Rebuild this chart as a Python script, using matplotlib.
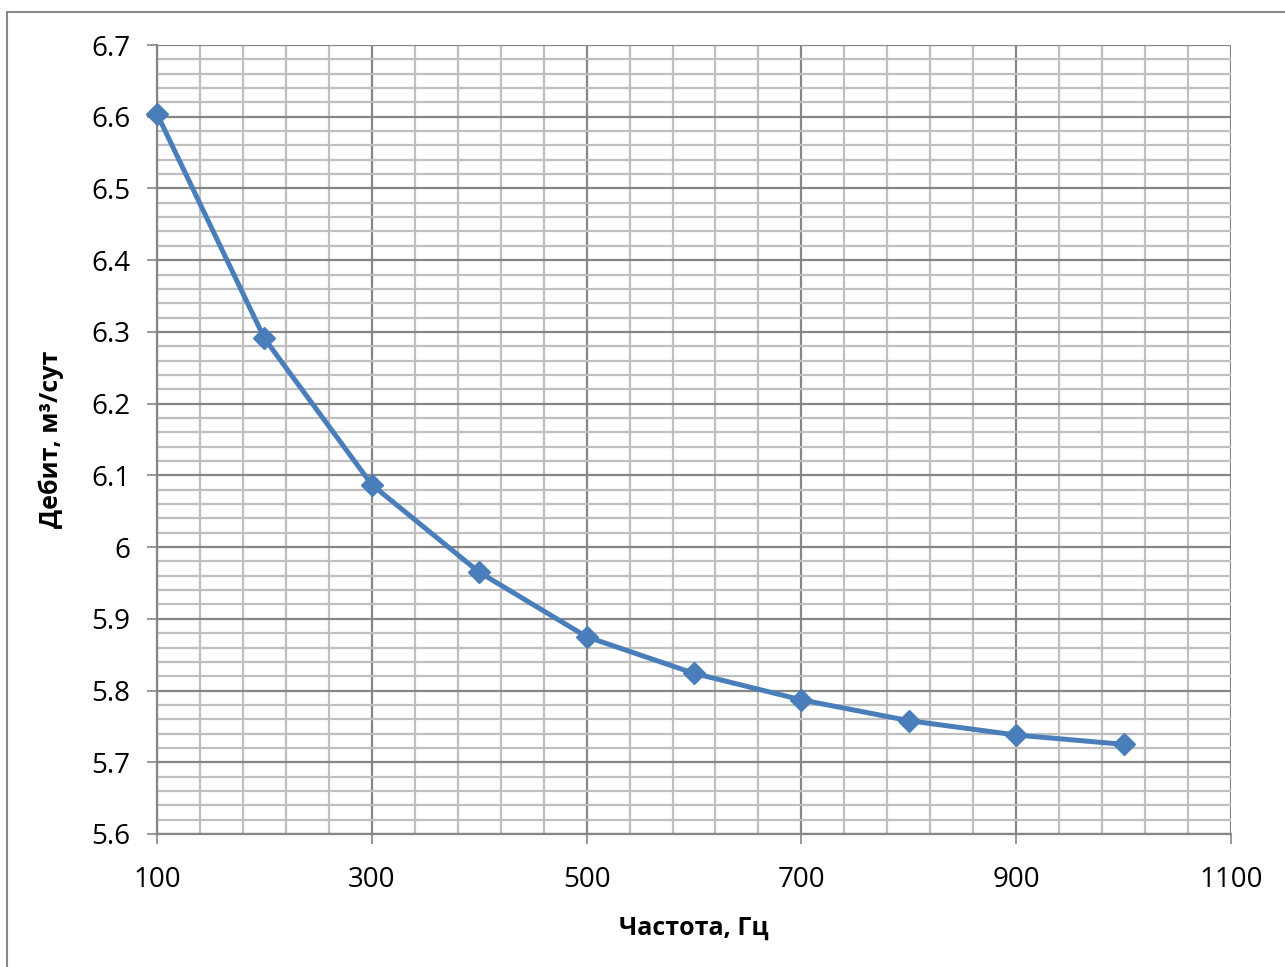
import numpy as np
import matplotlib.pyplot as plt
from matplotlib.patches import Rectangle
from matplotlib.ticker import FixedLocator

plt.rcParams['font.family'] = ['Open Sans', 'DejaVu Sans']

# data
freq = [100, 200, 300, 400, 500, 600, 700, 800, 900, 1000]
debit = [6.604, 6.291, 6.087, 5.965, 5.875, 5.824, 5.787, 5.758, 5.738, 5.725]
xticks = [100, 300, 500, 700, 900, 1100]
yticks = [5.6, 5.7, 5.8, 5.9, 6.0, 6.1, 6.2, 6.3, 6.4, 6.5, 6.6, 6.7]
ytick_labels = ['5.6', '5.7', '5.8', '5.9', '6', '6.1', '6.2', '6.3', '6.4', '6.5', '6.6', '6.7']

fig = plt.figure(figsize=(12.85, 9.67), dpi=100)
fig.patches.append(Rectangle((7/1285, -0.1), 1.2, 1.1 - 12/967, transform=fig.transFigure,
                             fill=False, edgecolor='#898989', linewidth=1.5))
ax = fig.add_axes([157/1285, 133/967, 1074/1285, 789/967])

ax.set_xlim(100, 1100)
ax.set_ylim(5.6, 6.7)
ax.set_xticks(xticks)
ax.set_yticks(yticks)
ax.set_yticklabels(ytick_labels)
ax.xaxis.set_minor_locator(FixedLocator(np.arange(100, 1101, 40)))
ax.yaxis.set_minor_locator(FixedLocator(np.arange(5.6, 6.701, 0.02)))

ax.grid(which='minor', color='#bfbfbf', linewidth=1.6)
ax.grid(which='major', color='#868686', linewidth=1.6)
ax.set_axisbelow(True)

for s in ['top', 'right']:
    ax.spines[s].set_visible(False)
for s in ['left', 'bottom']:
    ax.spines[s].set_color('#868686')
    ax.spines[s].set_linewidth(1.6)

ax.tick_params(which='major', direction='out', length=7, width=1.2, color='#868686',
               labelsize=20)
ax.tick_params(axis='x', pad=16)
ax.tick_params(axis='y', pad=12)
ax.tick_params(which='minor', length=0)

ax.plot(freq, debit, color='#4a7ebb', linewidth=3.6, marker='D', markersize=11,
        markerfacecolor='#4a7ebb', markeredgecolor='#4a7ebb', clip_on=False, zorder=5)

ax.set_xlabel('Частота, Гц', fontsize=18, fontweight='bold', labelpad=16)
ax.set_ylabel('Дебит, м³/сут', fontsize=18, fontweight='bold', labelpad=20)

fig.savefig('out.png', dpi=100)
